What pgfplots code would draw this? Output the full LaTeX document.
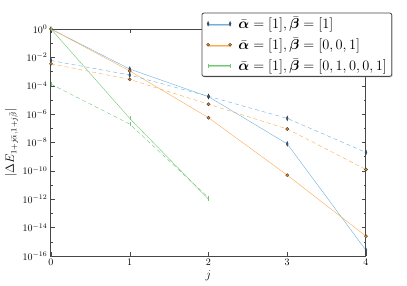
\documentclass[border=0pt]{standalone}
\usepackage{pgfplots}
\pgfplotsset{compat=1.18}
\usepackage{bm}
\usetikzlibrary{shadows}
\definecolor{cblue}{RGB}{110,175,225}
\definecolor{cbluem}{RGB}{40,90,140}
\definecolor{corange}{RGB}{248,170,80}
\definecolor{corangem}{RGB}{225,130,30}
\definecolor{cgreen}{RGB}{115,200,115}
\definecolor{frame}{RGB}{70,70,70}
\begin{document}
\begin{tikzpicture}
\begin{axis}[
  scale only axis, width=315pt, height=227pt,
  xmin=0, xmax=4, ymin=1e-16, ymax=1,
  ymode=log,
  xtick={0,1,2,3,4},
  ytick={1,1e-2,1e-4,1e-6,1e-8,1e-10,1e-12,1e-14,1e-16},
  minor ytick={1e-1,1e-3,1e-5,1e-7,1e-9,1e-11,1e-13,1e-15},
  tick align=inside, tick pos=both,
  major tick length=4pt, minor tick length=2pt,
  every tick/.style={frame, thin},
  axis line style={frame, line width=1pt},
  xlabel={$j$}, ylabel={$|\Delta E_{1+j\bar{\alpha},1+j\bar{\beta}}|$},
  label style={font=\large},
  xlabel style={yshift=2pt},
  ylabel style={yshift=-2pt},
  legend style={at={(1.083,1.072)}, anchor=north east, draw=frame, line width=0.8pt,
    rounded corners=2pt, fill=white, font=\fontsize{14.4}{16}\selectfont,
    drop shadow={shadow xshift=1pt, shadow yshift=-1pt, fill=gray!70},
    row sep=3.5pt, inner xsep=3pt, inner ysep=2pt, cells={anchor=west}},
  legend image code/.code={\path (0pt,0pt) (31pt,0pt); \draw[#1] plot coordinates {(3pt,0pt) (25pt,0pt)};},
  legend cell align=left,
]
\addplot[cblue, thin, mark=diamond*, mark size=2.4pt, mark options={xscale=0.55, fill=cbluem, draw=black!80, line width=0.3pt, solid}]
  coordinates {(0,1) (1,1.5e-3) (2,1.7e-5) (3,8e-9) (4,2.5e-16)};
\addlegendentry{$\bar{\bm{\alpha}}=[1],\bar{\bm{\beta}}=[1]$}
\addplot[corange, thin, mark=*, mark size=1.6pt, mark options={fill=corangem, draw=black!80, line width=0.3pt, solid}]
  coordinates {(0,1) (1,1.1e-3) (2,5.6e-7) (3,5e-11) (4,2.5e-15)};
\addlegendentry{$\bar{\bm{\alpha}}=[1],\bar{\bm{\beta}}=[0,0,1]$}
\addplot[cgreen, thin, mark=|, mark size=2pt, mark options={solid}]
  coordinates {(0,1) (1,5e-7) (2,1e-12)};
\addlegendentry{$\bar{\bm{\alpha}}=[1],\bar{\bm{\beta}}=[0,1,0,0,1]$}
\addplot[cblue, thin, dashed, dash pattern=on 4pt off 3pt, mark=diamond*, mark size=2.4pt, mark options={xscale=0.55, fill=cbluem, draw=black!80, line width=0.3pt, solid}, forget plot]
  coordinates {(0,6e-3) (1,5.7e-4) (2,1.8e-5) (3,5e-7) (4,2e-9)};
\addplot[corange, thin, dash pattern=on 4pt off 3pt, mark=*, mark size=1.6pt, mark options={fill=corangem, draw=black!80, line width=0.3pt, solid}, forget plot]
  coordinates {(0,3.5e-3) (1,2.8e-4) (2,5e-6) (3,9e-8) (4,1.25e-10)};
\addplot[cgreen, thin, dash pattern=on 4pt off 3pt, mark=|, mark size=2pt, mark options={solid}, forget plot]
  coordinates {(0,1.3e-4) (1,2e-7) (2,1.3e-12)};
\end{axis}
\path (current axis.south west) ++(-51pt,-29pt) rectangle ++(407pt,285pt);
\end{tikzpicture}
\end{document}
